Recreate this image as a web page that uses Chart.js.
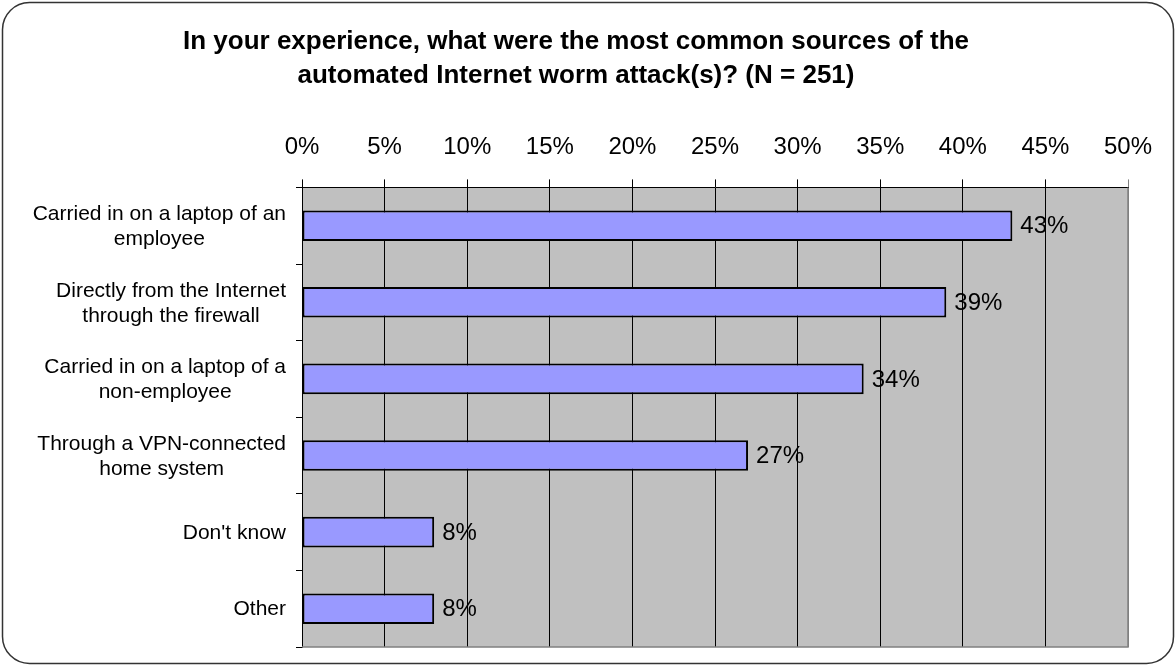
<!DOCTYPE html>
<html>
<head>
<meta charset="utf-8">
<script src="https://cdn.jsdelivr.net/npm/chart.js@4"></script>
<style>
  body { margin: 0; background: #fff; }
  #wrap { width: 1176px; height: 666px; }
</style>
</head>
<body>
<div id="wrap"><canvas id="wormChart"></canvas></div>
<script>
const categories = [
  ["Carried in on a laptop of an", "employee"],
  ["Directly from the Internet", "through the firewall"],
  ["Carried in on a laptop of a", "non-employee"],
  ["Through a VPN-connected", "home system"],
  ["Don't know"],
  ["Other"]
];
const shares = [43, 39, 34, 27, 8, 8];
const tickMax = 50;
const tickStep = 5;
const titleLines = [
  "In your experience, what were the most common sources of the",
  "automated Internet worm attack(s)? (N = 251)"
];

const FONT = "Arial, 'Liberation Sans', sans-serif";

// white page, rounded frame and grey plot area
const framePlugin = {
  id: "frame",
  beforeDraw(chart) {
    const ctx = chart.ctx;
    const a = chart.chartArea;
    ctx.save();
    ctx.fillStyle = "#fff";
    ctx.fillRect(0, 0, chart.width, chart.height);
    ctx.strokeStyle = "#333";
    ctx.lineWidth = 1.5;
    ctx.beginPath();
    ctx.roundRect(2.5, 2.5, chart.width - 5, chart.height - 5, 27);
    ctx.stroke();
    ctx.fillStyle = "#c0c0c0";
    ctx.fillRect(a.left, a.top, a.right - a.left, a.bottom - a.top);
    ctx.restore();
  },
  afterDraw(chart) {
    const ctx = chart.ctx;
    const a = chart.chartArea;
    ctx.save();
    ctx.strokeStyle = "#808080";
    ctx.lineWidth = 1.5;
    ctx.beginPath();
    ctx.moveTo(a.left, a.bottom);
    ctx.lineTo(a.right, a.bottom);
    ctx.lineTo(a.right, a.top);
    ctx.stroke();
    ctx.restore();
  }
};

// category labels: each block right aligned, lines centred inside it
const catLabelPlugin = {
  id: "catLabels",
  afterDraw(chart) {
    const ctx = chart.ctx;
    const y = chart.scales.y;
    const right = chart.chartArea.left - 16;
    const lineH = 25;
    ctx.save();
    ctx.font = "21px " + FONT;
    ctx.fillStyle = "#000";
    ctx.textAlign = "center";
    ctx.textBaseline = "middle";
    categories.forEach((lines, i) => {
      const w = Math.max(...lines.map(l => ctx.measureText(l).width));
      const cx = right - w / 2;
      const cy = y.getPixelForTick(i) + 1;
      lines.forEach((l, j) => {
        ctx.fillText(l, cx, cy + (j - (lines.length - 1) / 2) * lineH);
      });
    });
    ctx.restore();
  }
};

// value labels at the end of the bars
const valueLabelPlugin = {
  id: "valueLabels",
  afterDatasetsDraw(chart) {
    const ctx = chart.ctx;
    const meta = chart.getDatasetMeta(0);
    ctx.save();
    ctx.font = "24px " + FONT;
    ctx.fillStyle = "#000";
    ctx.textAlign = "left";
    ctx.textBaseline = "middle";
    meta.data.forEach((bar, i) => {
      ctx.fillText(shares[i] + "%", bar.x + 8, bar.y + 1);
    });
    ctx.restore();
  }
};

new Chart(document.getElementById("wormChart").getContext("2d"), {
  type: "bar",
  data: {
    labels: categories,
    datasets: [
      {
        data: shares,
        backgroundColor: "#9999ff",
        borderColor: "#000",
        borderWidth: 2,
        borderSkipped: false,
        categoryPercentage: 1,
        barPercentage: 0.4
      }
    ]
  },
  options: {
    indexAxis: "y",
    responsive: true,
    maintainAspectRatio: false,
    animation: false,
    layout: { padding: { left: 24, right: 48, top: 3, bottom: 19 } },
    plugins: {
      legend: { display: false },
      tooltip: { enabled: false },
      title: {
        display: true,
        text: titleLines,
        color: "#000",
        font: { family: FONT, size: 26, weight: "bold", lineHeight: 1.3 },
        padding: { top: 22, bottom: 22 }
      }
    },
    scales: {
      x: {
        position: "top",
        min: 0,
        max: tickMax,
        ticks: {
          stepSize: tickStep,
          color: "#000",
          padding: 18,
          font: { family: FONT, size: 24 },
          callback: v => v + "%"
        },
        grid: {
          color: ctx => (ctx.tick && ctx.tick.value === tickMax ? "#808080" : "#000"),
          lineWidth: 1,
          tickLength: 8
        },
        border: { color: "#000", width: 1 }
      },
      y: {
        ticks: { display: false },
        grid: {
          drawOnChartArea: false,
          color: "#000",
          tickLength: 6,
          offset: true
        },
        border: { color: "#000", width: 1 },
        afterFit(scale) {
          scale.width = 278;
        }
      }
    }
  },
  plugins: [framePlugin, catLabelPlugin, valueLabelPlugin]
});
</script>
</body>
</html>
